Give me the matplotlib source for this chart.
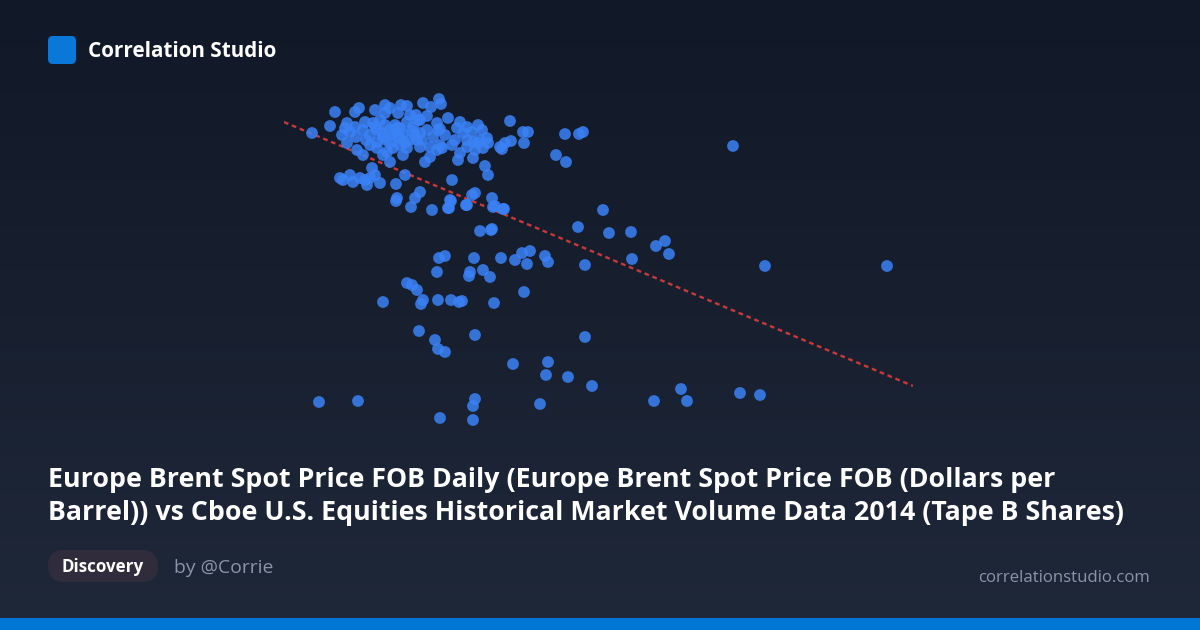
import numpy as np
import matplotlib
matplotlib.use("Agg")
import matplotlib.pyplot as plt
from matplotlib.patches import FancyBboxPatch, Rectangle
from matplotlib.colors import LinearSegmentedColormap

# ---- data: Brent spot price ($/bbl) vs Cboe Tape B volume (index units) ----
brent_price = [
    31.2, 33.0, 34.7, 35.0, 35.9, 37.5, 39.0, 38.5, 39.8, 40.7, 42.3, 43.1, 43.9, 44.1,
    42.7, 43.7, 44.0, 36.3, 37.3, 37.7, 39.0, 40.7, 41.3, 40.3, 42.0, 42.7, 41.0, 40.0,
    40.7, 42.0, 43.0, 44.0, 34.7, 35.7, 36.3, 37.0, 37.7, 38.3, 39.0, 38.7, 39.0, 39.7,
    38.3, 42.5, 43.0, 43.7, 44.2, 37.7, 34.0, 35.0, 35.3, 36.0, 37.2, 37.0, 38.0, 40.5,
    39.6, 42.0, 41.5, 39.7, 45.2, 43.8, 45.7, 46.7, 47.8, 48.2, 47.2, 46.3, 45.5, 45.2,
    46.7, 47.3, 48.0, 48.7, 48.8, 47.8, 46.7, 47.5, 48.3, 46.0, 45.8, 47.3, 48.5, 48.8,
    51.0, 52.3, 52.8, 52.4, 51.1, 50.5, 50.0, 50.2, 56.5, 57.9, 58.3, 55.6, 56.6, 73.3,
    45.0, 44.8, 46.7, 47.2, 47.5, 49.2, 49.5, 50.4, 43.2, 41.1, 39.6,
    34.5, 35.5, 36.5, 38.0, 38.5, 39.5, 40.0, 41.0, 41.5, 42.0, 43.3, 41.7, 39.3, 40.3,
    37.0, 36.6, 35.6, 33.5, 34.2, 44.8, 44.5, 46.0, 34.3, 36.5, 37.5, 36.7, 41.6, 40.1,
    38.5, 35.5,
    37.5, 38.2, 39.3, 40.0, 41.2, 41.8, 42.2, 38.6, 39.7, 40.5,
    60.3, 57.8, 60.9, 63.1, 65.6, 66.5, 66.9, 63.2, 58.5, 76.5, 88.7, 58.5, 56.8, 59.2,
    68.1, 65.4, 68.7, 74.0, 76.0,
    46.6, 49.3, 50.3, 44.9, 45.1,
    48.0, 49.1, 49.2, 43.9, 44.5, 47.4, 50.1, 51.5, 52.2, 53.0, 52.7, 54.5, 54.8, 43.7,
    47.0, 46.9, 48.3, 49.0, 40.7, 41.2, 41.7, 42.3, 42.1, 38.3, 43.8, 45.1, 45.9, 46.2,
    49.4, 52.4, 41.9, 43.5, 43.8, 44.5, 47.5, 51.3, 54.8, 54.6, 31.9, 35.8, 47.5, 47.3,
    44.0, 47.3, 54.0,
]
tapeb_volume = [
    327, 334, 337, 328, 352, 350, 352, 347, 347, 354, 357, 353, 361, 356,
    344, 337, 331, 330, 337, 330, 330, 338, 333, 327, 327, 330, 320, 315,
    312, 313, 313, 315, 317, 310, 305, 315, 318, 323, 317, 308, 298, 323,
    305, 298, 303, 310, 312, 312, 282, 285, 278, 282, 292, 282, 277, 285,
    276, 268, 262, 262, 280, 330, 332, 333, 335, 330, 328, 327, 320, 315,
    320, 318, 320, 322, 317, 317, 313, 310, 312, 307, 300, 302, 294, 285,
    339, 328, 328, 317, 319, 317, 313, 311, 326, 326, 328, 305, 298, 314,
    260, 252, 255, 265, 267, 262, 254, 251, 250, 253, 259,
    332, 333, 338, 340, 335, 335, 332, 345, 325, 340, 323, 320, 312, 305,
    325, 320, 323, 348, 325, 342, 325, 338, 280, 280, 285, 275, 345, 355,
    355, 348,
    333, 327, 327, 322, 329, 340, 320, 320, 332, 317,
    250, 233, 227, 228, 214, 219, 206, 201, 195, 194, 194, 123, 83, 74,
    71, 59, 59, 67, 65,
    255, 253, 251, 252, 259,
    229, 230, 231, 202, 204, 202, 202, 200, 207, 209, 196, 204, 198, 188,
    188, 184, 190, 183, 177, 175, 170, 160, 156, 158, 160, 160, 158, 159,
    157, 168, 129, 120, 111, 108, 125, 96, 98, 85, 58, 59, 61, 54,
    42, 40, 56,
]

x = np.array(brent_price)
y = np.array(tapeb_volume)

# ---- figure ----
W, H = 1200, 630
fig = plt.figure(figsize=(W / 100, H / 100), dpi=100)

# background gradient
bg = fig.add_axes([0, 0, 1, 1], zorder=0)
cmap = LinearSegmentedColormap.from_list("bg", ["#111827", "#1f2839"])
grad = np.linspace(0, 1, 256).reshape(-1, 1)
bg.imshow(grad, aspect="auto", cmap=cmap, extent=[0, 1, 0, 1], origin="upper")
bg.set_xlim(0, 1)
bg.set_ylim(0, 1)
bg.axis("off")

def fx(px):
    return px / W

def fy(py):
    return 1 - py / H

# bottom accent bar
bg.add_patch(Rectangle((0, 0), 1, 12 / H, transform=bg.transAxes,
                       facecolor="#0077d4", edgecolor="none", zorder=2))

# logo square
bg.add_patch(FancyBboxPatch((fx(48), fy(64)), 28 / W, 28 / H,
                            boxstyle="round,pad=0,rounding_size=0.004",
                            transform=bg.transAxes, facecolor="#0a78d8",
                            edgecolor="none", zorder=2, mutation_aspect=W / H))

renderer = fig.canvas.get_renderer()

def fit_text(xp, yp, s, target_w, **kw):
    t = fig.text(fx(xp), fy(yp), s, **kw)
    w = t.get_window_extent(renderer).width
    t.set_fontsize(t.get_fontsize() * target_w / w)
    return t

FONT = "Open Sans"

fit_text(88, 57, "Correlation Studio", 189, color="white", fontsize=15,
         fontweight="bold", family=FONT, va="baseline", ha="left", zorder=5)

t1 = fit_text(48, 520, "Barrel)) vs Cboe U.S. Equities Historical Market Volume Data 2014 (Tape B Shares)",
              1074, color="white", fontsize=17, fontweight="bold", family=FONT,
              va="baseline", ha="left", zorder=5)
fig.text(fx(48), fy(487), "Europe Brent Spot Price FOB Daily (Europe Brent Spot Price FOB (Dollars per",
         color="white", fontsize=t1.get_fontsize(), fontweight="bold", family=FONT,
         va="baseline", ha="left", zorder=5)

# pill
bg.add_patch(FancyBboxPatch((fx(48), fy(582)), 110 / W, 32 / H,
                            boxstyle="round,pad=0,rounding_size=0.0133",
                            transform=bg.transAxes, facecolor="#302c3c",
                            edgecolor="none", zorder=2, mutation_aspect=W / H))
fit_text(103, 572, "Discovery", 82, color="white", fontsize=12, fontweight="bold",
         family=FONT, va="baseline", ha="center", zorder=5)
fit_text(174, 573, "by @Corrie", 99, color="#8b95a8", fontsize=13,
         family=FONT, va="baseline", ha="left", zorder=5)
fit_text(1150, 582, "correlationstudio.com", 171, color="#8b95a8", fontsize=12,
         family=FONT, va="baseline", ha="right", zorder=5)

# ---- scatter ----
ax = fig.add_axes([fx(284), fy(430), (913 - 284) / W, (430 - 90) / H], zorder=3)
ax.set_xlim(28.4, 91.3)
ax.set_ylim(30, 370)
ax.patch.set_alpha(0)
ax.axis("off")

ax.scatter(x, y, s=72, color="#3b82f6", alpha=0.85, edgecolors="none", zorder=3)

slope, intercept = np.polyfit(x, y, 1)
xl = np.array(ax.get_xlim())
ax.plot(xl, slope * xl + intercept, color="#dc3c3c", lw=1.7,
        linestyle=(0, (2, 1.6)), alpha=0.9, zorder=2)

fig.savefig("out.png", dpi=100)
